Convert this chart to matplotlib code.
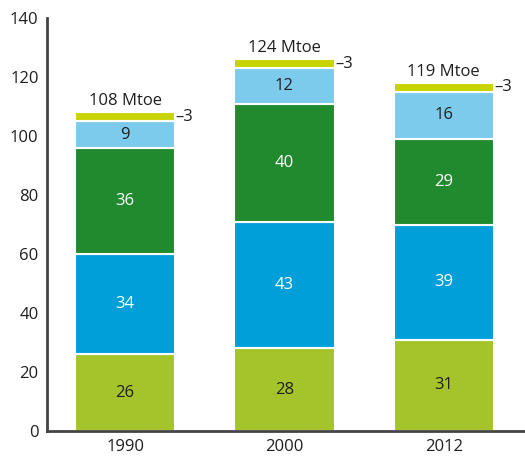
import numpy as np
import matplotlib.pyplot as plt

plt.rcParams['font.family'] = ['Open Sans', 'DejaVu Sans']

years = ['1990', '2000', '2012']
seg_lime = [26, 28, 31]
seg_blue = [34, 43, 39]
seg_green = [36, 40, 29]
seg_lightblue = [9, 12, 16]
seg_yellow = [3, 3, 3]
totals = ['108 Mtoe', '124 Mtoe', '119 Mtoe']

series = [
    (seg_lime, '#a5c32a', '#1e1e1e'),
    (seg_blue, '#009fda', 'white'),
    (seg_green, '#218a2e', 'white'),
    (seg_lightblue, '#7dcbec', '#1e1e1e'),
    (seg_yellow, '#c8d400', None),
]

fig = plt.figure(figsize=(5.25, 4.57), dpi=100)
ax = fig.add_axes([0.0895, 0.0569, 0.9105, 0.9037])

x = np.arange(len(years))
width = 0.63
bottom = np.zeros(len(years))
for vals, color, txt_color in series:
    vals = np.array(vals, dtype=float)
    ax.bar(x, vals, width, bottom=bottom, color=color,
           edgecolor='white', linewidth=1.5)
    if txt_color is not None:
        for xi, b, v in zip(x, bottom, vals):
            ax.text(xi, b + v / 2, f'{int(v)}', ha='center', va='center',
                    fontsize=12, color=txt_color, fontweight='medium')
    bottom += vals

# small top segment value beside each bar, total above it
top_start = bottom - np.array(seg_yellow)
for xi, b, v, tot in zip(x, top_start, seg_yellow, totals):
    ax.text(xi + width / 2 + 0.003, b + v / 2, f'\u2013{v}', ha='left',
            va='center', fontsize=12, color='#1e1e1e')
    ax.text(xi, b + v + 1.0, tot, ha='center', va='bottom',
            fontsize=12, color='#1e1e1e')

ax.set_xlim(-0.49, 2.51)
ax.set_ylim(0, 140)
ax.set_yticks(range(0, 141, 20))
ax.set_xticks(x)
ax.set_xticklabels(years)
ax.tick_params(length=0, labelsize=12, colors='#1e1e1e', pad=6)
for s in ['top', 'right']:
    ax.spines[s].set_visible(False)
for s in ['left', 'bottom']:
    ax.spines[s].set_color('#444444')
    ax.spines[s].set_linewidth(2)

fig.savefig('out.png', dpi=100)
